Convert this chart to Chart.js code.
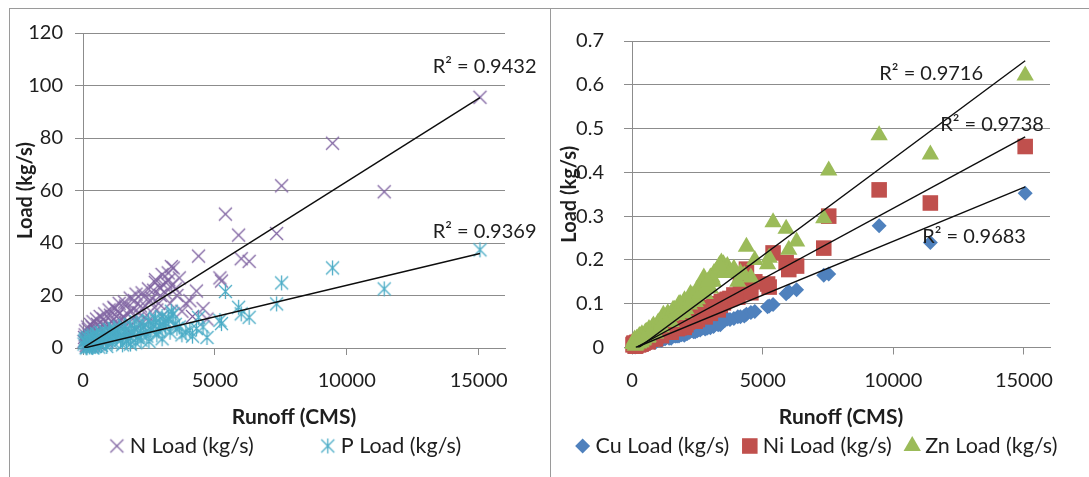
<!DOCTYPE html>
<html lang="en">
<head>
<meta charset="UTF-8">
<title>Runoff vs Load</title>
<script src="https://cdn.jsdelivr.net/npm/chart.js"></script>
<style>
    body { margin: 0; background: #fff; }
    .frame { position: absolute; top: 8px; height: 468px; border-top: 1px solid #9a9a9a; border-left: 1px solid #9a9a9a; }
    #leftFrame { left: 9px; width: 540px; }
    #rightFrame { left: 550px; width: 538px; }
    canvas { display: block; }
</style>
</head>
<body>
<div class="frame" id="leftFrame"><canvas id="nutrientChart" width="540" height="468"></canvas></div>
<div class="frame" id="rightFrame"><canvas id="metalChart" width="538" height="468"></canvas></div>

<script>
    // storm events: runoff (CMS) and the load of each constituent (kg/s)
    const runoff = [15050, 11420, 9460, 7530, 7340, 5400, 5900, 6300, 6000, 4380, 5250, 4300, 5190, 4050, 4550,
        3650, 3420, 3230, 3140,
        40, 80, 120, 160, 200, 250, 300, 350, 420, 480, 550, 620, 700, 780, 860, 950, 1040, 1130, 1220, 1320,
        1420, 1520, 1620, 1730, 1840, 1950, 2060, 2180, 2300, 2420, 2550, 2680, 2800, 2930, 3060, 3300, 3500,
        2000, 1500, 900, 600, 350, 150, 2500, 2750, 3000, 1200, 1800,
        60, 100, 140, 180, 230, 280, 320, 380, 450, 510, 580, 650, 740, 820, 900, 990, 1080, 1170, 1270, 1370,
        1470, 1570, 1680, 1790, 1900, 2010, 2120, 2240, 2360, 2480, 2610, 2740, 2870, 3000, 3120, 3250, 3380,
        3560, 3750, 3900, 4150, 4700, 2200, 1650, 1100, 700, 450, 250, 2900, 3350];
    const nLoad = [95.5, 59.5, 78.0, 61.8, 43.6, 51.0, 43.0, 33.0, 34.0, 35.0, 25.5, 21.7, 26.7, 18.0, 15.0,
        26.7, 30.5, 28.6, 25.0,
        2.5, 5, 1, 3.5, 7, 2, 4.5, 8, 3, 6, 9, 4, 7.5, 11, 5, 9, 12.5, 6.5, 10, 14,
        8, 12, 16, 9.5, 14, 18, 11, 16, 19.5, 12.5, 18, 22, 14.5, 20, 24, 17, 22.5,
        7, 4.5, 2.5, 1.5, 0.8, 0.5, 10, 26, 12, 15, 6,
        4, 6.5, 3, 8, 5, 9, 2.5, 10, 6, 11, 7, 12, 9, 13, 8, 14.5, 10, 15.5, 12, 17,
        11, 17.5, 13, 19, 15, 20.5, 13.5, 21, 16, 22.5, 19, 25, 17, 28, 21, 26, 24,
        20, 14, 17, 12, 11, 9, 7, 5, 3, 2, 1.5, 23, 31];
    const pLoad = [37.4, 22.5, 30.5, 24.8, 16.8, 21.5, 15.5, 11.7, 13.0, 11.7, 9.3, 7.4, 10.5, 6.7, 8.0,
        8.0, 13.0, 11.0, 9.5,
        1.5, 3, 0.1, 2, 3.5, 0.8, 2.5, 4, 1.2, 3, 4.5, 1.5, 3.5, 5, 2, 4, 5.5, 2.5, 4.5, 6,
        3, 5, 6.5, 3.5, 6, 7.5, 4, 6.5, 8, 4.5, 7, 9, 5, 8, 10, 6, 9,
        2, 1.2, 0.6, 0.3, 0.2, 0.1, 2.5, 11, 3.5, 6.5, 1.5,
        2.5, 3.5, 1.8, 4, 1, 4.5, 0.5, 5, 2, 5.5, 2.5, 6, 3, 6.5, 3.5, 7, 4, 7.5, 4.5, 8,
        3.5, 8.5, 5, 9, 5.5, 10, 4.5, 10, 6, 10.5, 7, 11.5, 6.5, 12, 8, 11, 12.5,
        7.5, 5, 6, 4.5, 4, 3, 2.5, 1.8, 1, 0.6, 0.4, 8.5, 14];
    const cuLoad = [0.352, 0.240, 0.278, 0.168, 0.165, 0.098, 0.123, 0.132, 0.128, 0.076, 0.095, 0.072, 0.093, 0.070, 0.080,
        0.065, 0.060, 0.055, 0.050,
        0.002, 0.004, 0.001, 0.004, 0.006, 0.003, 0.006, 0.008, 0.006, 0.009, 0.011, 0.008, 0.012, 0.015, 0.012, 0.016, 0.019, 0.016, 0.020, 0.023,
        0.021, 0.025, 0.028, 0.026, 0.030, 0.033, 0.031, 0.036, 0.038, 0.036, 0.041, 0.044, 0.042, 0.047, 0.050, 0.052, 0.060,
        0.028, 0.021, 0.012, 0.008, 0.004, 0.002, 0.038, 0.046, 0.045, 0.022, 0.026,
        0.003, 0.005, 0.003, 0.006, 0.005, 0.008, 0.004, 0.009, 0.008, 0.011, 0.010, 0.013, 0.012, 0.016, 0.014, 0.018, 0.017, 0.021, 0.020, 0.025,
        0.023, 0.027, 0.026, 0.031, 0.029, 0.034, 0.032, 0.038, 0.036, 0.042, 0.040, 0.046, 0.044, 0.050, 0.048, 0.054, 0.052,
        0.062, 0.064, 0.066, 0.070, 0.082, 0.035, 0.026, 0.018, 0.011, 0.007, 0.004, 0.047, 0.058];
    const niLoad = [0.459, 0.330, 0.360, 0.300, 0.227, 0.216, 0.194, 0.186, 0.178, 0.179, 0.138, 0.134, 0.145, 0.115, 0.125,
        0.110, 0.105, 0.100, 0.095,
        0.006, 0.010, 0.003, 0.008, 0.012, 0.006, 0.011, 0.015, 0.010, 0.016, 0.020, 0.014, 0.021, 0.026, 0.020, 0.028, 0.033, 0.027, 0.036, 0.040,
        0.035, 0.044, 0.048, 0.043, 0.054, 0.058, 0.052, 0.064, 0.068, 0.060, 0.074, 0.079, 0.070, 0.084, 0.090, 0.086, 0.102,
        0.046, 0.035, 0.020, 0.013, 0.008, 0.004, 0.064, 0.085, 0.078, 0.040, 0.045,
        0.008, 0.009, 0.006, 0.011, 0.009, 0.014, 0.008, 0.017, 0.014, 0.020, 0.018, 0.024, 0.022, 0.029, 0.026, 0.032, 0.031, 0.038, 0.036, 0.044,
        0.042, 0.050, 0.047, 0.056, 0.052, 0.062, 0.058, 0.070, 0.066, 0.076, 0.072, 0.084, 0.080, 0.092, 0.088, 0.098, 0.096,
        0.108, 0.112, 0.120, 0.150, 0.150, 0.060, 0.045, 0.030, 0.019, 0.012, 0.007, 0.084, 0.100];
    const znLoad = [0.621, 0.441, 0.485, 0.404, 0.295, 0.286, 0.271, 0.242, 0.223, 0.230, 0.205, 0.165, 0.190, 0.150, 0.160,
        0.186, 0.194, 0.175, 0.170,
        0.008, 0.015, 0.004, 0.012, 0.020, 0.009, 0.018, 0.027, 0.016, 0.028, 0.036, 0.024, 0.036, 0.046, 0.034, 0.048, 0.058, 0.046, 0.062, 0.072,
        0.060, 0.076, 0.086, 0.074, 0.100, 0.098, 0.088, 0.112, 0.118, 0.104, 0.135, 0.140, 0.122, 0.150, 0.160, 0.170, 0.190,
        0.078, 0.058, 0.032, 0.022, 0.012, 0.006, 0.110, 0.160, 0.135, 0.075, 0.080,
        0.010, 0.018, 0.008, 0.020, 0.014, 0.026, 0.012, 0.030, 0.024, 0.034, 0.030, 0.042, 0.038, 0.050, 0.044, 0.056, 0.052, 0.066, 0.062, 0.078,
        0.072, 0.086, 0.082, 0.098, 0.090, 0.108, 0.100, 0.122, 0.114, 0.132, 0.124, 0.146, 0.138, 0.160, 0.150, 0.172, 0.180,
        0.176, 0.170, 0.180, 0.170, 0.200, 0.098, 0.074, 0.048, 0.030, 0.018, 0.010, 0.150, 0.188];

    // linear trendlines (start and end of each fitted line, in data units)
    const nTrend = [[50, 0.3], [15050, 95.4]];
    const pTrend = [[50, 0], [15050, 36]];
    const cuTrend = [[150, 0], [15050, 0.367]];
    const niTrend = [[150, 0], [15050, 0.481]];
    const znTrend = [[150, -0.005], [15050, 0.655]];

    const xTicks = [0, 5000, 10000, 15000];
    const nutrientAxis = [0, 120, 20];
    const metalAxis = [0, 0.7, 0.1];

    const FONT = 'Lato, "Open Sans", sans-serif';
    const GRID = '#8c8c8c';
    const TEXT = '#1e1e1e';
    Chart.defaults.font.family = FONT;
    Chart.defaults.color = TEXT;

    const points = load => runoff.map((x, i) => ({x: x, y: load[i]}));
    const line = ends => ends.map(p => ({x: p[0], y: p[1]}));

    // Excel style "x" and "star" markers
    function markerCanvas(color, star) {
        const s = 17;
        const c = document.createElement('canvas');
        c.width = s;
        c.height = s;
        const g = c.getContext('2d');
        g.strokeStyle = color;
        g.lineWidth = 1.3;
        g.beginPath();
        g.moveTo(2, 2); g.lineTo(s - 2, s - 2);
        g.moveTo(s - 2, 2); g.lineTo(2, s - 2);
        if (star) { g.moveTo(s / 2, 1); g.lineTo(s / 2, s - 1); }
        g.stroke();
        return c;
    }

    function trendSet(ends) {
        return {
            type: 'line', data: line(ends), inLegend: false, order: 0,
            borderColor: '#0d0d0d', borderWidth: 1.4, pointRadius: 0, fill: false
        };
    }

    const r2Plugin = {
        id: 'r2Labels',
        afterDatasetsDraw(chart, args, opts) {
            const ctx = chart.ctx;
            ctx.save();
            ctx.font = opts.size + 'px ' + FONT;
            ctx.fillStyle = TEXT;
            ctx.textBaseline = 'middle';
            opts.items.forEach(it => {
                ctx.fillText(it.text, chart.scales.x.getPixelForValue(it.x), chart.scales.y.getPixelForValue(it.y));
            });
            ctx.restore();
        }
    };

    const legendPlugin = {
        id: 'sheetLegend',
        afterDraw(chart, args, opts) {
            const ctx = chart.ctx;
            const sets = chart.data.datasets.filter(d => d.inLegend !== false);
            ctx.save();
            ctx.font = opts.size + 'px ' + FONT;
            ctx.textBaseline = 'middle';
            const widths = sets.map(d => 8 + opts.textOffset + ctx.measureText(d.label).width);
            const total = widths.reduce((a, b) => a + b, 0) + opts.gap * (sets.length - 1);
            let x = opts.centerX - total / 2;
            sets.forEach((d, i) => {
                const cx = x + 8;
                ctx.fillStyle = d.backgroundColor || TEXT;
                ctx.strokeStyle = d.borderColor || TEXT;
                Chart.helpers.drawPoint(ctx, {
                    pointStyle: d.pointStyle, radius: d.pointRadius, rotation: 0, borderWidth: d.borderWidth || 0
                }, cx, opts.y);
                ctx.fillStyle = TEXT;
                ctx.fillText(d.label, cx + opts.textOffset, opts.y);
                x += widths[i] + opts.gap;
            });
            ctx.restore();
        }
    };

    function makeChart(id, datasets, cfg) {
        new Chart(document.getElementById(id), {
            type: 'scatter',
            data: {datasets: datasets},
            plugins: [r2Plugin, legendPlugin],
            options: {
                responsive: false,
                animation: false,
                layout: {padding: {top: cfg.top, right: cfg.right, bottom: 0, left: 0}},
                plugins: {
                    legend: {display: false},
                    tooltip: {enabled: false},
                    r2Labels: {size: 20, items: cfg.r2},
                    sheetLegend: {size: 21.5, y: 437, centerX: cfg.legendX, gap: cfg.legendGap, textOffset: 13}
                },
                scales: {
                    x: {
                        type: 'linear', min: 0, max: 16000,
                        afterBuildTicks: axis => { axis.ticks = xTicks.map(v => ({value: v})); },
                        afterFit: axis => { axis.height = cfg.xHeight; },
                        grid: {drawOnChartArea: false, tickLength: 7, color: GRID},
                        border: {color: GRID},
                        ticks: {padding: 14, font: {size: 20}, maxRotation: 0, autoSkip: false, callback: v => String(v)},
                        title: {display: true, text: 'Runoff (CMS)', font: {size: 21, weight: 'bold'}, padding: {top: 0, bottom: 47.4}}
                    },
                    y: {
                        min: cfg.yAxis[0], max: cfg.yAxis[1],
                        afterFit: axis => { axis.width = cfg.yWidth; },
                        grid: {tickLength: 8, color: GRID},
                        border: {color: GRID},
                        ticks: {stepSize: cfg.yAxis[2], padding: cfg.yPad, font: {size: 20}, callback: cfg.yFormat},
                        title: {display: true, text: 'Load (kg/s)', font: {size: 20, weight: 'bold'}, padding: {top: cfg.titlePad, bottom: 0}}
                    }
                }
            }
        });
    }

    const nColor = '#8064A2';
    const pColor = '#4BACC6';

    makeChart('nutrientChart', [
        {label: 'N Load (kg/s)', data: points(nLoad), pointStyle: markerCanvas(nColor, false), pointRadius: 8, order: 2, clip: false},
        {label: 'P Load (kg/s)', data: points(pLoad), pointStyle: markerCanvas(pColor, true), pointRadius: 8, order: 1, clip: false},
        trendSet(nTrend),
        trendSet(pTrend)
    ], {
        top: 19.6, right: 45, xHeight: 129, yWidth: 73, yPad: 12, titlePad: 4,
        yAxis: nutrientAxis, yFormat: v => String(v),
        legendX: 275, legendGap: 66,
        r2: [{text: 'R² = 0.9432', x: 13260, y: 107.3}, {text: 'R² = 0.9369', x: 13260, y: 44.3}]
    });

    makeChart('metalChart', [
        {label: 'Cu Load (kg/s)', data: points(cuLoad), pointStyle: 'rectRot', pointRadius: 7.5,
            backgroundColor: '#4F81BD', borderColor: '#4F81BD', borderWidth: 0, order: 3, clip: false},
        {label: 'Ni Load (kg/s)', data: points(niLoad), pointStyle: 'rect', pointRadius: 11,
            backgroundColor: '#C0504D', borderColor: '#C0504D', borderWidth: 0, order: 2, clip: false},
        {label: 'Zn Load (kg/s)', data: points(znLoad), pointStyle: 'triangle', pointRadius: 10,
            backgroundColor: '#9BBB59', borderColor: '#9BBB59', borderWidth: 0, order: 1, clip: false},
        trendSet(cuTrend),
        trendSet(niTrend),
        trendSet(znTrend)
    ], {
        top: 22, right: 39, xHeight: 129.5, yWidth: 81, yPad: 20, titlePad: 7,
        yAxis: metalAxis, yFormat: v => String(+v.toFixed(1)),
        legendX: 265, legendGap: 12.5,
        r2: [{text: 'R² = 0.9716', x: 9466, y: 0.625}, {text: 'R² = 0.9738', x: 11795, y: 0.510},
            {text: 'R² = 0.9683', x: 11107, y: 0.253}]
    });
</script>
</body>
</html>
